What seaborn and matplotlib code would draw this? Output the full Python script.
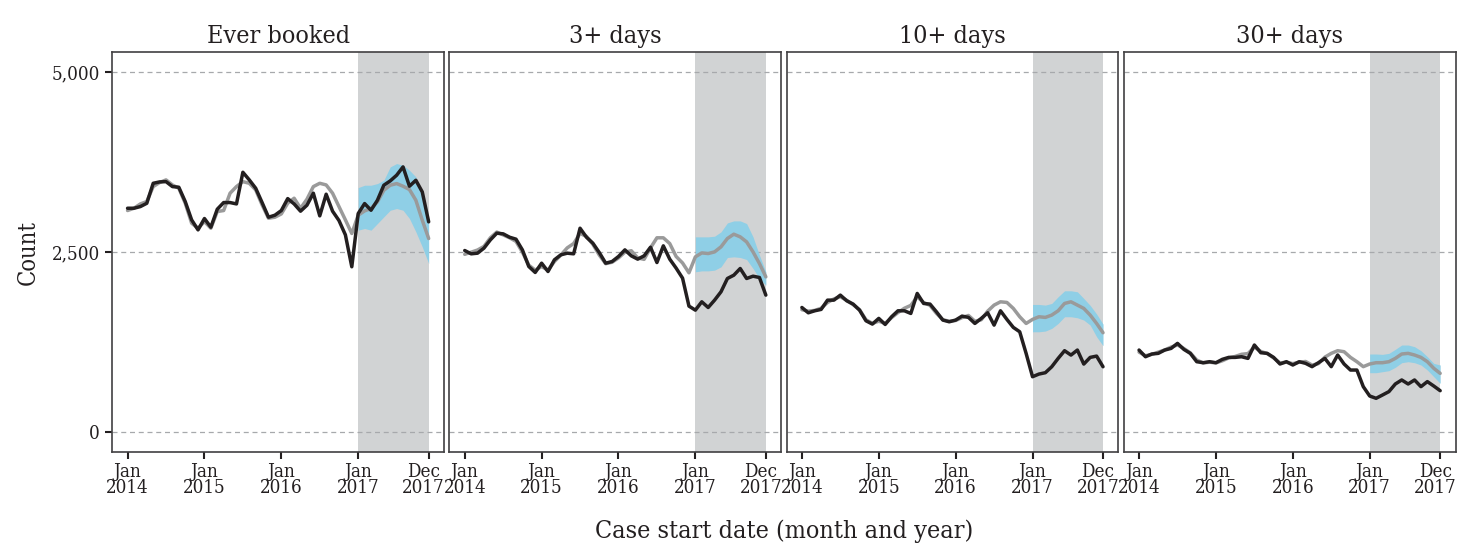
import numpy as np
import pandas as pd
import matplotlib
matplotlib.use("Agg")
import matplotlib.pyplot as plt
import matplotlib.transforms as mtransforms
import seaborn as sns

# Panels (days spent in booking)
panels = ["Ever booked", "3+ days", "10+ days", "30+ days"]

# Monthly index Jan 2014 .. Dec 2017
months = list(range(48))
tick_pos = [0, 12, 24, 36, 47]
tick_labels = ["Jan\n2014", "Jan\n2015", "Jan\n2016", "Jan\n2017", "Dec\n2017"]

# Observed counts
observed_ever = [3111, 3111, 3134, 3180, 3458, 3477, 3481, 3412, 3403, 3204, 2949, 2810,
                 2968, 2847, 3097, 3190, 3190, 3171, 3611, 3505, 3389, 3190, 2986, 3014,
                 3079, 3245, 3171, 3070, 3153, 3320, 3005, 3306, 3070, 2940, 2741, 2297,
                 3037, 3176, 3083, 3222, 3431, 3491, 3570, 3686, 3417, 3500, 3338, 2922]
observed_3 = [2523, 2477, 2486, 2556, 2671, 2764, 2755, 2708, 2681, 2532, 2301, 2218,
              2347, 2231, 2394, 2463, 2486, 2477, 2833, 2708, 2625, 2495, 2347, 2370,
              2440, 2532, 2449, 2403, 2449, 2569, 2356, 2588, 2403, 2278, 2139, 1750,
              1694, 1810, 1731, 1833, 1949, 2134, 2180, 2273, 2134, 2166, 2148, 1903]
observed_10 = [1731, 1657, 1685, 1704, 1833, 1833, 1903, 1824, 1778, 1694, 1546, 1500,
               1579, 1495, 1602, 1685, 1685, 1648, 1926, 1787, 1778, 1671, 1556, 1532,
               1556, 1611, 1593, 1509, 1579, 1657, 1486, 1685, 1565, 1454, 1393, 1092,
               768, 805, 824, 907, 1023, 1130, 1069, 1139, 944, 1037, 1055, 907]
observed_30 = [1139, 1046, 1084, 1093, 1139, 1162, 1232, 1148, 1093, 977, 963, 977,
               963, 1010, 1037, 1037, 1046, 1023, 1209, 1102, 1093, 1037, 945, 977,
               931, 977, 954, 908, 963, 1023, 908, 1070, 945, 861, 861, 630,
               500, 468, 514, 561, 667, 723, 667, 723, 630, 700, 639, 574]

# Model fit / forecast
expected_ever = [3079, 3111, 3171, 3204, 3412, 3468, 3505, 3435, 3389, 3181, 2903, 2833,
                 2926, 2833, 3065, 3079, 3320, 3412, 3481, 3458, 3366, 3157, 2972, 2986,
                 3032, 3181, 3250, 3111, 3236, 3412, 3458, 3435, 3320, 3134, 2949, 2760,
                 3014, 3074, 3107, 3199, 3361, 3431, 3454, 3417, 3371, 3222, 2945, 2690]
expected_3 = [2470, 2500, 2530, 2580, 2700, 2780, 2740, 2700, 2650, 2500, 2320, 2250,
              2300, 2250, 2370, 2460, 2560, 2620, 2760, 2720, 2610, 2460, 2340, 2360,
              2420, 2500, 2520, 2420, 2400, 2560, 2700, 2700, 2620, 2440, 2350, 2213,
              2435, 2490, 2481, 2504, 2574, 2690, 2750, 2713, 2643, 2504, 2342, 2157]
expected_10 = [1700, 1680, 1690, 1720, 1800, 1850, 1880, 1830, 1770, 1700, 1560, 1510,
               1540, 1510, 1590, 1660, 1720, 1760, 1880, 1800, 1760, 1650, 1560, 1540,
               1550, 1590, 1620, 1540, 1560, 1680, 1764, 1810, 1801, 1718, 1602, 1509,
               1565, 1602, 1593, 1625, 1685, 1787, 1810, 1764, 1718, 1625, 1509, 1380]
expected_30 = [1110, 1060, 1080, 1110, 1140, 1180, 1210, 1160, 1100, 1000, 960, 970,
               960, 990, 1030, 1050, 1080, 1090, 1180, 1120, 1090, 1030, 960, 970,
               950, 970, 980, 930, 950, 1040, 1093, 1130, 1116, 1037, 977, 908,
               945, 963, 963, 977, 1023, 1084, 1093, 1070, 1037, 977, 885, 815]

# Forecast interval for 2017 (Jan..Dec)
upper_ever = [3398, 3431, 3431, 3454, 3500, 3686, 3732, 3709, 3639, 3547, 3269, 2980]
lower_ever = [2806, 2829, 2806, 2898, 2991, 3083, 3107, 3083, 2968, 2783, 2574, 2343]
upper_3 = [2713, 2713, 2713, 2722, 2782, 2907, 2935, 2935, 2898, 2713, 2458, 2227]
lower_3 = [2227, 2240, 2240, 2250, 2296, 2426, 2435, 2426, 2398, 2273, 2134, 2041]
upper_10 = [1773, 1773, 1764, 1787, 1880, 1963, 1963, 1949, 1856, 1760, 1640, 1500]
lower_10 = [1393, 1393, 1403, 1440, 1509, 1602, 1602, 1588, 1556, 1486, 1324, 1200]
upper_30 = [1084, 1084, 1079, 1093, 1149, 1209, 1209, 1186, 1130, 1047, 954, 931]
lower_30 = [824, 824, 838, 852, 899, 963, 977, 963, 931, 861, 769, 676]

observed = [observed_ever, observed_3, observed_10, observed_30]
expected = [expected_ever, expected_3, expected_10, expected_30]
uppers = [upper_ever, upper_3, upper_10, upper_30]
lowers = [lower_ever, lower_3, lower_10, lower_30]
forecast_months = months[36:]

sns.set_theme(style="white")
plt.rcParams["font.family"] = ["DejaVu Serif"]
plt.rcParams["font.stretch"] = "condensed"

TEXT = "#231f20"
fig, axes = plt.subplots(1, 4, figsize=(14.57, 5.5), dpi=100, sharey=True)
fig.subplots_adjust(left=0.077, right=0.999, top=0.905, bottom=0.178, wspace=0.016)

# nudge for the "Dec 2017" label so it sits clear of the next panel
nudge_left = mtransforms.ScaledTranslation(-5 / 100, 0, fig.dpi_scale_trans)

for ax, name, obs, exp, up, lo in zip(axes, panels, observed, expected, uppers, lowers):
    ax.axvspan(36, 47, color="#d1d3d4", lw=0, zorder=0)
    for yv in (0, 2500, 5000):
        ax.axhline(yv, color="#a7a9ac", lw=0.9, ls=(0, (4, 3)), zorder=0.5)
    ax.fill_between(forecast_months, lo, up, color="#8fcfe6", lw=0, zorder=1)
    df = pd.DataFrame({"month": months, "expected": exp, "observed": obs})
    sns.lineplot(data=df, x="month", y="expected", ax=ax, color="#9a9a9a", lw=2.5, zorder=2)
    sns.lineplot(data=df, x="month", y="observed", ax=ax, color=TEXT, lw=2.5, zorder=3)
    ax.set_xlim(-2.4, 49.4)
    ax.set_ylim(-280, 5280)
    ax.set_xticks(tick_pos)
    ax.set_xticklabels(tick_labels, fontsize=13.5, color=TEXT, linespacing=0.85)
    ax.set_yticks([0, 2500, 5000])
    ax.set_yticklabels(["0", "2,500", "5,000"], fontsize=13.5, color=TEXT)
    ax.tick_params(axis="x", direction="out", length=5, width=1.5, color=TEXT,
                   bottom=True, pad=3)
    ax.tick_params(axis="y", direction="out", length=5, width=1.5, color=TEXT,
                   left=(ax is axes[0]), pad=4)
    last = ax.get_xticklabels()[-1]
    last.set_transform(last.get_transform() + nudge_left)
    ax.set_xlabel("")
    ax.set_ylabel("")
    ax.set_title(name, fontsize=18, color=TEXT, pad=7)
    for sp in ax.spines.values():
        sp.set_color("#414042")
        sp.set_linewidth(1.2)

axes[0].set_ylabel("Count", fontsize=17, color=TEXT, labelpad=8)
fig.text(0.538, 0.012, "Case start date (month and year)", ha="center", va="bottom",
         fontsize=18, color=TEXT)

fig.savefig("out.png", dpi=100)
